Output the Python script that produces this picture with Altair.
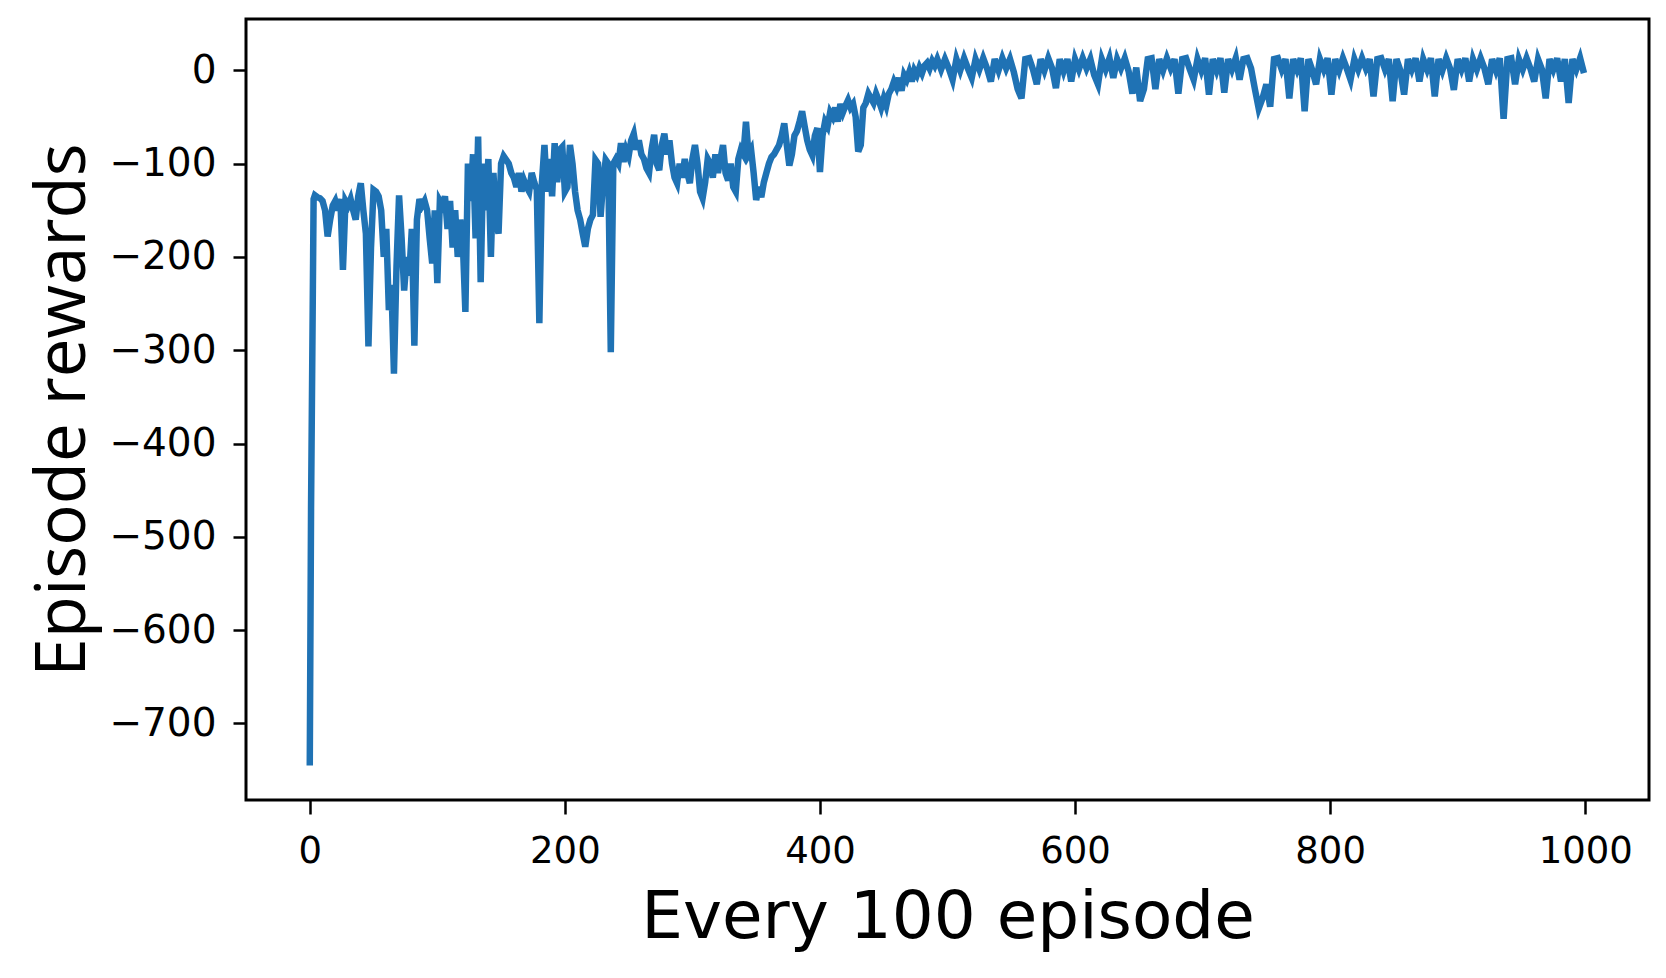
import altair as alt
import pandas as pd

# ---- data ----
start_x = [0, 1, 3]
start_y = [-745, -470, -138]

# episodes 4..132 step 2
early_start, early_step = 4, 2
early_y = [-134, -136, -137, -140, -150, -178, -160, -145, -140, -150,
           -138, -214, -140, -145, -138, -150, -160, -135, -121, -150,
           -175, -296, -190, -128, -130, -135, -150, -200, -170, -257,
           -230, -325, -210, -134, -180, -236, -200, -220, -170, -295,
           -160, -138, -145, -140, -150, -180, -207, -150, -228, -140,
           -145, -135, -170, -140, -190, -150, -200, -160, -185, -259,
           -100, -140, -90, -180, -71]

# episodes 134..260 step 2
mid_start, mid_step = 134, 2
mid_y = [-227, -100, -150, -95, -200, -110, -160, -175, -100, -92,
         -96, -100, -110, -115, -125, -110, -130, -118, -125, -130,
         -110, -120, -128, -271, -120, -80, -130, -95, -135, -78,
         -120, -85, -82, -130, -125, -80, -100, -130, -150, -160,
         -175, -189, -170, -160, -155, -96, -100, -157, -120, -96,
         -100, -302, -100, -95, -100, -78, -98, -85, -92, -75,
         -68, -85, -75, -90]

# episodes 262..490 step 2
rise_start, rise_step = 262, 2
rise_y = [-95, -105, -110, -85, -69, -100, -107, -80, -68, -90,
          -75, -100, -115, -121, -100, -115, -95, -110, -121, -95,
          -80, -100, -130, -137, -120, -95, -100, -115, -90, -110,
          -95, -80, -110, -118, -100, -125, -130, -95, -85, -90,
          -55, -90, -85, -110, -139, -125, -136, -120, -110, -100,
          -93, -90, -85, -80, -70, -57, -80, -102, -90, -70,
          -65, -55, -44, -60, -75, -85, -91, -70, -62, -109,
          -70, -55, -60, -45, -50, -40, -55, -36, -45, -38,
          -32, -40, -36, -50, -87, -80, -40, -35, -25, -30,
          -35, -25, -32, -40, -30, -38, -25, -20, -12, -18,
          -8, -22, -5, -10, -2, -12, 0, -5, 3, -3,
          5, 8, 2, 10, 5]

# episodes 492..999 step 3
tail_start, tail_step = 492, 3
tail_y = [12, 1, 12, 2, -10, 12, 0, 13, 2, -8,
          12, 1, 13, 2, -12, 12, 0, 13, 2, 12,
          -2, -20, -30, 12, 13, 1, -15, 12, 0, 13,
          2, -19, 12, -1, 12, -12, 12, 1, 13, 2,
          12, -5, -15, 12, 1, 13, -8, 12, 2, 13,
          -1, -25, 3, -33, -20, 12, 13, -20, 12, 0,
          13, 2, 12, -25, 12, 13, 1, -10, 12, 0,
          13, -26, 12, 0, 13, -24, 12, 1, 13, -10,
          12, 13, 2, -20, -41, -30, -15, -39, 12, 13,
          1, 12, -30, 12, 1, 13, -44, 12, 0, -15,
          12, 1, 13, -26, 12, 0, 13, 2, -10, 12,
          1, 13, 2, 12, -28, 12, 13, 1, 12, -33,
          12, 0, -26, 12, 1, 13, -12, 12, 1, 13,
          -28, 12, 0, 13, 2, -21, 12, 1, 13, -12,
          12, 1, 13, 2, -15, 12, 0, 13, -52, 12,
          13, -15, 12, 1, 13, 2, -12, 12, 1, -30,
          12, 1, 13, -12, 12, -35, 12, 1, 13, -3]

y_ticks = [0, -100, -200, -300, -400, -500, -600, -700]
x_ticks = [0, 200, 400, 600, 800, 1000]

# ---- build table ----
xs, ys = list(start_x), list(start_y)
for s, st, vals in [(early_start, early_step, early_y),
                    (mid_start, mid_step, mid_y),
                    (rise_start, rise_step, rise_y),
                    (tail_start, tail_step, tail_y)]:
    for i, v in enumerate(vals):
        xs.append(s + st * i)
        ys.append(v)
df = pd.DataFrame({"episode": xs, "reward": ys})

chart = alt.Chart(df).mark_line(color="#1f72b4", strokeWidth=6.5, clip=True).encode(
    x=alt.X("episode:Q",
            scale=alt.Scale(domain=[-50, 1050], nice=False, zero=False),
            axis=alt.Axis(values=x_ticks, format="d", title="Every 100 episode", grid=False,
                          domain=False, tickSize=14, tickWidth=2.5, tickColor="black",
                          labelFontSize=37, labelFont="DejaVu Sans", labelColor="black",
                          labelPadding=19, titleFontSize=66, titleFont="DejaVu Sans",
                          titleFontWeight="normal", titleColor="black", titlePadding=16)),
    y=alt.Y("reward:Q",
            scale=alt.Scale(domain=[-782, 55], nice=False, zero=False),
            axis=alt.Axis(values=y_ticks, title="Episode rewards", grid=False,
                          domain=False, tickSize=13, tickWidth=2.5, tickColor="black",
                          labelFontSize=39, labelFont="DejaVu Sans", labelColor="black",
                          labelPadding=17, titleFontSize=69, titleFont="Open Sans",
                          titleFontWeight="normal", titleColor="black", titlePadding=10)),
).properties(
    width=1403, height=781,
    autosize=alt.AutoSizeParams(type="none"),
    padding={"left": 238, "top": 11, "right": 9, "bottom": 160},
).configure_view(stroke="black", strokeWidth=3)

chart.save("out.html", embed_options={"renderer": "svg", "actions": False})
